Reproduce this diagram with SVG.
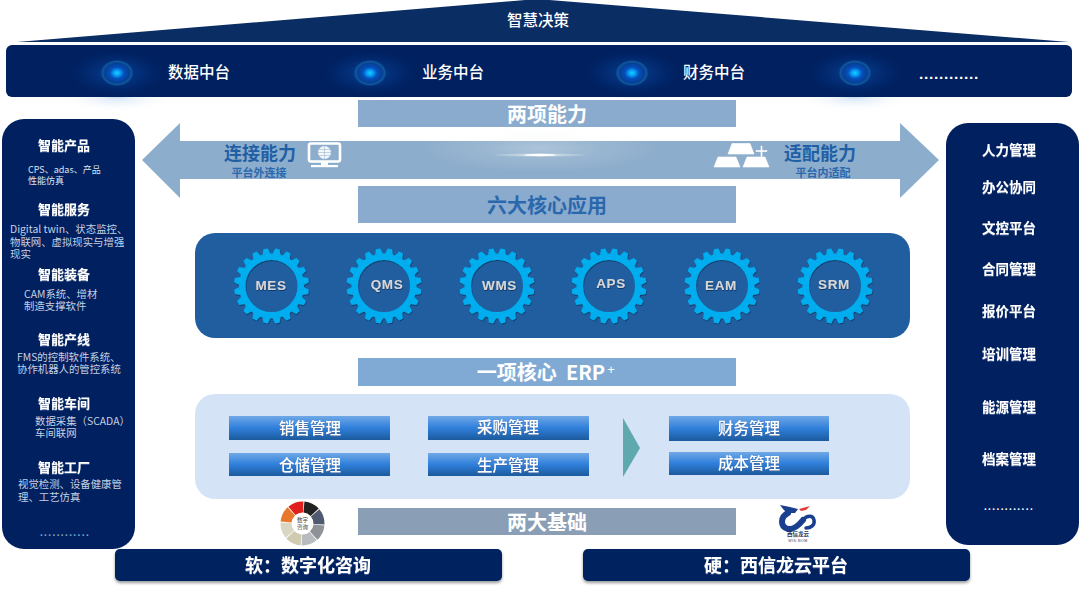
<svg xmlns="http://www.w3.org/2000/svg" width="1080" height="596" viewBox="0 0 1080 596">
<style>
text{font-family:"Noto Sans CJK SC","Liberation Sans",sans-serif;text-anchor:middle;dominant-baseline:central;fill:#fff;transform:translateY(-1.5px)}
.navy{fill:#00205f}
.band{fill:#8aabcd}
.h19{font-size:20px;font-weight:700}
.top{font-size:15.5px;font-weight:500}
.ttl{font-size:13px;font-weight:700;filter:url(#ts)}
.rt{font-size:13.5px;font-weight:700;filter:url(#ts)}
.ds{font-size:10.4px;fill:#c6d0e4;text-anchor:start}
.ds2{font-size:9px;fill:#dfe5f0;text-anchor:start}
.btn{fill:url(#btn)}
.bt{font-size:15.5px;font-weight:500;filter:url(#ts)}
.cap{font-size:18px;font-weight:700;fill:#1f5fa5}
.sub{font-size:11px;font-weight:700;fill:#2a68ad}
.bot{font-size:18px;font-weight:700;filter:url(#ts)}
.gl{font-family:"Liberation Sans",sans-serif;font-size:13.5px;font-weight:700;fill:#d4d6d8;letter-spacing:.6px;filter:url(#gs);transform:none}
.seg{fill:none;stroke-width:11;stroke-dasharray:11.8 88.2}
.lat{font-family:"Liberation Sans",sans-serif;transform:none}
</style>
<defs>
<linearGradient id="btn" x1="0" y1="0" x2="0" y2="1"><stop offset="0" stop-color="#70a8e6"/><stop offset=".5" stop-color="#2f7fdb"/><stop offset="1" stop-color="#1c5a9c"/></linearGradient>
<radialGradient id="halo"><stop offset="0" stop-color="#0a4fb0" stop-opacity=".7"/><stop offset=".45" stop-color="#053a8c" stop-opacity=".5"/><stop offset="1" stop-color="#00205f" stop-opacity="0"/></radialGradient>
<radialGradient id="core"><stop offset="0" stop-color="#10d4ff"/><stop offset=".2" stop-color="#0a9cf5"/><stop offset=".42" stop-color="#0450bc"/><stop offset=".72" stop-color="#083f94"/><stop offset=".86" stop-color="#0f5a9c"/><stop offset="1" stop-color="#053a8c" stop-opacity="0"/></radialGradient>
<radialGradient id="under"><stop offset="0" stop-color="#bcd4f2" stop-opacity=".6"/><stop offset="1" stop-color="#fff" stop-opacity="0"/></radialGradient>
<radialGradient id="flare"><stop offset="0" stop-color="#fff" stop-opacity=".95"/><stop offset=".5" stop-color="#e8f2ee" stop-opacity=".45"/><stop offset="1" stop-color="#fff" stop-opacity="0"/></radialGradient>
<filter id="ts" x="-10%" y="-20%" width="120%" height="150%"><feDropShadow dx="0" dy="1" stdDeviation=".5" flood-color="#4d6a9c" flood-opacity=".8"/></filter>
<filter id="gs" x="-10%" y="-20%" width="120%" height="150%"><feDropShadow dx=".5" dy="1" stdDeviation=".6" flood-color="#0b2c55" flood-opacity=".8"/></filter>
<filter id="sh" x="-5%" y="-20%" width="110%" height="150%"><feDropShadow dx="0" dy="2" stdDeviation="1.5" flood-color="#000" flood-opacity=".4"/></filter>
<polygon id="tooth" points="-4,-32 -2.2,-37.5 2.2,-37.5 4,-32"/>
<g id="gear" filter="url(#gs)" fill="#00aeef">
<circle r="29.250" fill="none" stroke="#00aeef" stroke-width="6.500"/>
<use href="#tooth" transform="rotate(9)"/><use href="#tooth" transform="rotate(27)"/><use href="#tooth" transform="rotate(45)"/><use href="#tooth" transform="rotate(63)"/><use href="#tooth" transform="rotate(81)"/>
<use href="#tooth" transform="rotate(99)"/><use href="#tooth" transform="rotate(117)"/><use href="#tooth" transform="rotate(135)"/><use href="#tooth" transform="rotate(153)"/><use href="#tooth" transform="rotate(171)"/>
<use href="#tooth" transform="rotate(189)"/><use href="#tooth" transform="rotate(207)"/><use href="#tooth" transform="rotate(225)"/><use href="#tooth" transform="rotate(243)"/><use href="#tooth" transform="rotate(261)"/>
<use href="#tooth" transform="rotate(279)"/><use href="#tooth" transform="rotate(297)"/><use href="#tooth" transform="rotate(315)"/><use href="#tooth" transform="rotate(333)"/><use href="#tooth" transform="rotate(351)"/>
</g>
<g id="halo1"><rect x="-55" y="-26" width="110" height="52" fill="url(#halo)"/><ellipse rx="17" ry="13.500" fill="url(#core)"/></g>
</defs>
<rect width="1080" height="596" fill="#fff"/>

<g id="apex">
<polygon points="17,42 537,-1 1069,42" fill="#0a2d63"/>
<text x="538" y="20" class="top">智慧决策</text>
</g>

<g id="middle-platforms">
<ellipse cx="117" cy="98" rx="60" ry="14" fill="url(#under)"/>
<ellipse cx="855" cy="98" rx="60" ry="14" fill="url(#under)"/>
<rect x="6" y="45" width="1066" height="52" rx="6" class="navy"/>
<use href="#halo1" x="117" y="73"/>
<use href="#halo1" x="370" y="73"/>
<use href="#halo1" x="632" y="73"/>
<use href="#halo1" x="855" y="73"/>
<text x="199" y="72" class="top">数据中台</text>
<text x="453" y="72" class="top">业务中台</text>
<text x="714" y="72" class="top">财务中台</text>
<text x="949" y="73" class="lat" style="font-size:15.500px;font-weight:700;letter-spacing:.7px">............</text>
</g>

<g id="two-capabilities">
<rect x="358" y="100" width="378" height="27" class="band"/>
<text x="547" y="115" class="h19">两项能力</text>
</g>

<g id="capability-arrow">
<polygon points="142,160 180,123 180,141 900,141 900,123 939,160 900,198 900,179 180,179 180,198" fill="#8dadcc"/>
<ellipse cx="540" cy="148" rx="120" ry="24" fill="url(#flare)" opacity=".3"/>
<ellipse cx="540" cy="155" rx="50" ry="2" fill="url(#flare)"/>
<ellipse cx="540" cy="155" rx="16" ry="1.200" fill="#fff"/>
<text x="260" y="153" class="cap">连接能力</text>
<text x="259" y="173" class="sub">平台外连接</text>
<g id="monitor-icon">
<rect x="309" y="143.500" width="31" height="18" rx="2" fill="none" stroke="#fff" stroke-width="2.600"/>
<circle cx="324.500" cy="152.500" r="6.500" fill="#fff" opacity=".9"/>
<path d="M318,152.500H331M324.500,146V159M319,149.500H330M319,155.500H330" stroke="#8dadcc" stroke-width=".5" fill="none"/>
<rect x="321" y="162" width="7" height="3" fill="#fff"/>
<rect x="311" y="165" width="27" height="2.200" fill="#fff"/>
</g>
<g id="gold-icon" fill="#fff" stroke="#fff" stroke-width=".6" stroke-linejoin="round">
<polygon points="732,143.500 750,143.500 754,154 728,154"/>
<polygon points="718,157 736,157 740,167 714,167"/>
<polygon points="747,157 765,157 769,167 743,167"/>
<rect x="756" y="150.500" width="11" height="1" /><rect x="761" y="146" width="1" height="10.500"/>
</g>
<text x="820" y="153" class="cap">适配能力</text>
<text x="823" y="173" class="sub">平台内适配</text>
</g>

<g id="six-apps-title">
<rect x="358" y="186" width="378" height="37" class="band"/>
<text x="547" y="206" class="h19" style="fill:#2a68ad">六大核心应用</text>
</g>

<g id="six-apps">
<rect x="195" y="233" width="715" height="105" rx="20" fill="#205e9f"/>
<g id="mes"><use href="#gear" x="271.500" y="286"/><text x="271" y="285" class="gl">MES</text></g>
<g id="qms"><use href="#gear" x="384" y="286"/><text x="387" y="284" class="gl">QMS</text></g>
<g id="wms"><use href="#gear" x="497" y="286"/><text x="499.500" y="285.500" class="gl">WMS</text></g>
<g id="aps"><use href="#gear" x="609" y="286"/><text x="611" y="283" class="gl">APS</text></g>
<g id="eam"><use href="#gear" x="722" y="286"/><text x="721" y="285.500" class="gl">EAM</text></g>
<g id="srm"><use href="#gear" x="835" y="286"/><text x="834" y="284" class="gl">SRM</text></g>
</g>

<g id="erp-title">
<rect x="358" y="358" width="378" height="28" fill="#80aad4"/>
<text x="541" y="373" class="h19" xml:space="preserve">一项核心  ERP</text>
<text x="611" y="369" class="lat" style="font-size:13px">+</text>
</g>

<g id="erp-panel">
<rect x="195" y="394" width="715" height="105" rx="20" fill="#d4e4f6"/>
<polygon points="623,418 640,448 623,477" fill="#5fa8ad"/>
</g>
<g id="sales"><rect x="229" y="416" width="161" height="24" class="btn"/><text x="310" y="428" class="bt">销售管理</text></g>
<g id="purchase"><rect x="428" y="416" width="161" height="24" class="btn"/><text x="508" y="427" class="bt">采购管理</text></g>
<g id="warehouse"><rect x="229" y="453" width="161" height="23" class="btn"/><text x="310" y="465" class="bt">仓储管理</text></g>
<g id="production"><rect x="428" y="453" width="161" height="23" class="btn"/><text x="508" y="465" class="bt">生产管理</text></g>
<g id="finance"><rect x="669" y="416" width="160" height="25" class="btn"/><text x="749" y="428" class="bt">财务管理</text></g>
<g id="cost"><rect x="669" y="452" width="160" height="23" class="btn"/><text x="749" y="463" class="bt">成本管理</text></g>

<g id="two-foundations">
<rect x="358" y="508" width="378" height="27" fill="#8a9fb5"/>
<text x="547" y="523" class="h19">两大基础</text>
</g>

<g id="logo-consulting">
<circle class="seg" cx="302.500" cy="523.500" r="16.500" pathLength="100" stroke="#e0201c" transform="rotate(-130 302.500 523.500)"/>
<circle class="seg" cx="302.500" cy="523.500" r="16.500" pathLength="100" stroke="#222222" transform="rotate(-85 302.500 523.500)"/>
<circle class="seg" cx="302.500" cy="523.500" r="16.500" pathLength="100" stroke="#4f5a70" transform="rotate(-40 302.500 523.500)"/>
<circle class="seg" cx="302.500" cy="523.500" r="16.500" pathLength="100" stroke="#8f9296" transform="rotate(5 302.500 523.500)"/>
<circle class="seg" cx="302.500" cy="523.500" r="16.500" pathLength="100" stroke="#b8bcc0" transform="rotate(50 302.500 523.500)"/>
<circle class="seg" cx="302.500" cy="523.500" r="16.500" pathLength="100" stroke="#cfcbb0" transform="rotate(95 302.500 523.500)"/>
<circle class="seg" cx="302.500" cy="523.500" r="16.500" pathLength="100" stroke="#d9d6c3" transform="rotate(140 302.500 523.500)"/>
<circle class="seg" cx="302.500" cy="523.500" r="16.500" pathLength="100" stroke="#e8792c" transform="rotate(185 302.500 523.500)"/>
<text x="302.500" y="521" style="font-size:5.500px;fill:#444">数字</text>
<text x="302.500" y="528" style="font-size:5.500px;fill:#444">咨询</text>
</g>

<g id="logo-dragon">
<path d="M788,513 C780,517 780,527 788,529 C794,530 799,525 803,520" fill="none" stroke="#1a3f8f" stroke-width="6" stroke-linecap="round"/>
<path d="M803,520 C807,515 813,515 814,520 C815,525 811,528 806,528" fill="none" stroke="#1a3f8f" stroke-width="3.500" stroke-linecap="round"/>
<path d="M780,505 L790,507 L798,509 L795,513 L787,513 L783,509 Z" fill="#1a3f8f"/>
<path d="M799,509 L810,506 L806,510 L801,511 Z" fill="#e03a3a"/>
<text x="798" y="535.500" style="font-size:5.500px;fill:#1a3060;font-weight:700">西信龙云</text>
<text x="798" y="542" style="font-size:3.500px;fill:#1a3060;letter-spacing:.5px;font-family:'Liberation Sans',sans-serif">WIS-NOM</text>
</g>

<g id="soft-foundation">
<rect x="115" y="549" width="387" height="32" rx="5" class="navy" filter="url(#sh)"/>
<text x="308" y="565" class="bot">软：数字化咨询</text>
</g>
<g id="hard-foundation">
<rect x="583" y="549" width="387" height="32" rx="5" class="navy" filter="url(#sh)"/>
<text x="776" y="565" class="bot">硬：西信龙云平台</text>
</g>

<g id="left-panel">
<rect x="2" y="119" width="133" height="430" rx="22" class="navy"/>
<text x="64" y="146" class="ttl">智能产品</text>
<text x="28" y="171" class="ds2">CPS、adas、产品</text>
<text x="28" y="182" class="ds2">性能仿真</text>
<text x="64" y="210" class="ttl">智能服务</text>
<text x="10" y="230" class="ds">Digital twin、状态监控、</text>
<text x="10" y="243" class="ds">物联网、虚拟现实与增强</text>
<text x="10" y="255" class="ds">现实</text>
<text x="64" y="275" class="ttl">智能装备</text>
<text x="24" y="295" class="ds">CAM系统、增材</text>
<text x="24" y="307" class="ds">制造支撑软件</text>
<text x="64" y="340" class="ttl">智能产线</text>
<text x="17" y="358" class="ds">FMS的控制软件系统、</text>
<text x="17" y="370" class="ds">协作机器人的管控系统</text>
<text x="64" y="404" class="ttl">智能车间</text>
<text x="35" y="422" class="ds">数据采集（SCADA）</text>
<text x="35" y="434" class="ds">车间联网</text>
<text x="64" y="468" class="ttl">智能工厂</text>
<text x="18" y="485" class="ds">视觉检测、设备健康管</text>
<text x="18" y="498" class="ds">理、工艺仿真</text>
<text x="65" y="532" class="lat" style="font-size:10px;font-weight:700;fill:#7fa8c8;letter-spacing:1.400px">............</text>
</g>

<g id="right-panel">
<rect x="946" y="123" width="133" height="422" rx="22" class="navy"/>
<text x="1009" y="150" class="rt">人力管理</text>
<text x="1009" y="187" class="rt">办公协同</text>
<text x="1009" y="228" class="rt">文控平台</text>
<text x="1009" y="269" class="rt">合同管理</text>
<text x="1009" y="311" class="rt">报价平台</text>
<text x="1009" y="354" class="rt">培训管理</text>
<text x="1009" y="407" class="rt">能源管理</text>
<text x="1009" y="459" class="rt">档案管理</text>
<text x="1009" y="506" class="lat" style="font-size:10px;font-weight:700;letter-spacing:1.400px">............</text>
</g>
</svg>
